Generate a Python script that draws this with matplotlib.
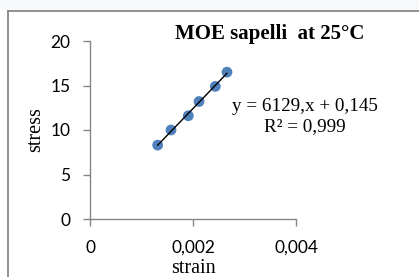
import numpy as np
import matplotlib
matplotlib.use('Agg')
import matplotlib.pyplot as plt
from matplotlib.patches import Rectangle
from matplotlib.lines import Line2D

# 数据
strain = [0.001314, 0.001573, 0.001909, 0.002117, 0.002433, 0.002660]
stress = [8.3, 10.0, 11.6, 13.2, 14.9, 16.5]
xticks = [0, 0.002, 0.004]
xticklabels = ['0', '0,002', '0,004']
yticks = [0, 5, 10, 15, 20]

W, H = 419, 277
fig = plt.figure(figsize=(W / 100, H / 100), dpi=100, facecolor='white')

# 上方浅灰条和图表边框
fig.patches.append(Rectangle((0, 1 - 10 / H), 1, 10 / H, transform=fig.transFigure,
                             facecolor='#f7f8fa', edgecolor='none', zorder=0))
fig.lines.append(Line2D([7.5 / W, 1], [1 - 10.5 / H, 1 - 10.5 / H], transform=fig.transFigure,
                        color='#888888', lw=1.3))
fig.lines.append(Line2D([7.5 / W, 7.5 / W], [0, 1 - 10.5 / H], transform=fig.transFigure,
                        color='#888888', lw=1.3))

ax = fig.add_axes([90 / W, 1 - 219 / H, (296 - 90) / W, (219 - 41) / H])
ax.set_facecolor('none')
ax.set_xlim(0, 0.004)
ax.set_ylim(0, 20)
for s in ['top', 'right']:
    ax.spines[s].set_visible(False)
for s in ['left', 'bottom']:
    ax.spines[s].set_color('#868686')
    ax.spines[s].set_linewidth(1.0)

ax.set_xticks(xticks)
ax.set_xticklabels(xticklabels)
ax.set_yticks(yticks)
ax.tick_params(axis='both', color='#868686', length=5, width=1.0, labelsize=12.5,
               direction='out')
ax.tick_params(axis='x', pad=10)
ax.tick_params(axis='y', pad=9)
for lab in ax.get_xticklabels() + ax.get_yticklabels():
    lab.set_fontfamily('Lato')

ax.scatter(strain, stress, s=60, color='#4f81bd', zorder=3, edgecolors='none')

# 线性趋势线
k, b = np.polyfit(strain, stress, 1)
xs = np.array([min(strain), max(strain)])
ax.plot(xs, k * xs + b, color='black', lw=1.0, zorder=4)

ax.set_xlabel('strain', fontfamily='Liberation Serif', fontsize=14.5, labelpad=2)
ax.set_ylabel('stress', fontfamily='Liberation Serif', fontsize=14.5, labelpad=4)

fig.text(270 / W, 1 - 34 / H, 'MOE sapelli  at 25°C', fontfamily='Liberation Serif',
         fontweight='bold', fontsize=15, ha='center', va='center')
fig.text(305 / W, 1 - 107 / H, 'y = 6129,x + 0,145', fontfamily='Liberation Serif',
         fontsize=13.8, ha='center', va='center')
fig.text(305 / W, 1 - 127 / H, 'R² = 0,999', fontfamily='Liberation Serif',
         fontsize=13.8, ha='center', va='center')

fig.savefig('out.png', dpi=100)
